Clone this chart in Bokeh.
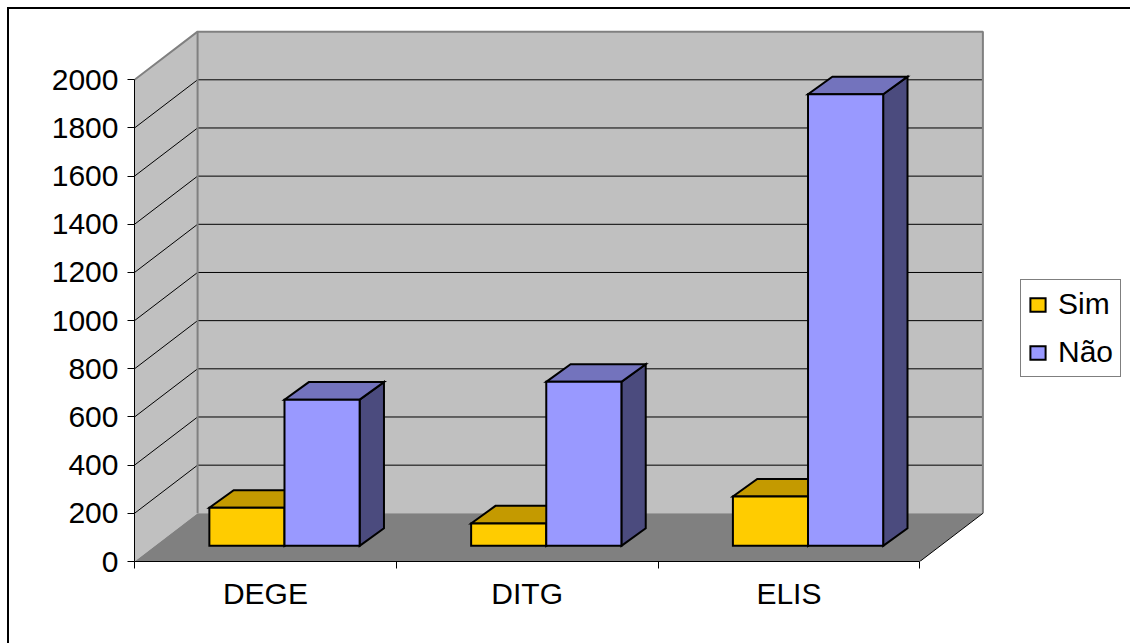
from bokeh.plotting import figure
from bokeh.models import (Range1d, FixedTicker, LinearAxis, Legend, LegendItem)
from bokeh.embed import file_html
from bokeh.resources import INLINE

# ---- data -------------------------------------------------------------
categories = ["DEGE", "DITG", "ELIS"]
series_names = ["Sim", "Não"]
sim_values = [158, 93, 205]
nao_values = [607, 681, 1875]
y_ticks = [0, 200, 400, 600, 800, 1000, 1200, 1400, 1600, 1800, 2000]

# ---- styling / geometry ---------------------------------------------
FONT = "Liberation Sans"
W, H = 1130, 643
LEFT, BOTTOM = 134, 82
X_PX = 261.77          # pixels per category
Y_PX = 0.24085         # pixels per value unit
Y_MAX = 2000

WALL_DX, WALL_DY = 0.241, 200       # depth of the 3-D box (x in categories, y in values)
BAR_FRONT = (0.073, 65)             # offset of bar front faces inside the box
BAR_BACK = (0.166, 138)             # offset of bar back faces inside the box
BAR_W = 0.287                       # width of one bar, in categories

SIM_COLORS = ("#FFCC00", "#C49A00", "#806600")   # front, top, side
NAO_COLORS = ("#9999FF", "#7373BD", "#4B4B7E")

n = len(categories)
x_end = (W - LEFT) / X_PX
y_end = (H - BOTTOM) / Y_PX

p = figure(width=W, height=H, x_range=Range1d(0, x_end), y_range=Range1d(0, y_end),
           output_backend="svg", toolbar_location=None,
           x_axis_type=None, y_axis_type=None,
           min_border_left=LEFT, min_border_bottom=BOTTOM,
           min_border_top=0, min_border_right=0)
p.outline_line_color = None
# transparent canvas so the chart border drawn by the page element shows through
p.background_fill_color = None
p.border_fill_color = None
p.styles = {
    "background-color": "white",
    "background-image": "linear-gradient(black, black), linear-gradient(black, black)",
    "background-size": "1130px 2px, 2px 643px",
    "background-position": "7px 7px, 7px 7px",
    "background-repeat": "no-repeat",
}

# ---- walls and floor ------------------------------------------------
wall_fill = "#C0C0C0"
p.patch([WALL_DX, n + WALL_DX, n + WALL_DX, WALL_DX],
        [WALL_DY, WALL_DY, Y_MAX + WALL_DY, Y_MAX + WALL_DY],
        fill_color=wall_fill, line_color=None)
p.patch([0, WALL_DX, WALL_DX, 0], [0, WALL_DY, Y_MAX + WALL_DY, Y_MAX],
        fill_color=wall_fill, line_color=None)
p.patch([0, n, n + WALL_DX, WALL_DX], [0, 0, WALL_DY, WALL_DY],
        fill_color="#808080", line_color=None)

# gridlines on the side and back walls
grid_xs, grid_ys = [], []
for v in y_ticks[1:-1]:
    grid_xs.append([0, WALL_DX, n + WALL_DX])
    grid_ys.append([v, v + WALL_DY, v + WALL_DY])
p.multi_line(grid_xs, grid_ys, line_color="black", line_width=1)

# wall edges
p.line([WALL_DX, WALL_DX], [WALL_DY, Y_MAX + WALL_DY], line_color="#808080", line_width=2)
p.line([0, WALL_DX, n + WALL_DX, n + WALL_DX],
       [Y_MAX, Y_MAX + WALL_DY, Y_MAX + WALL_DY, WALL_DY],
       line_color="#808080", line_width=2)
p.line([n, n + WALL_DX], [0, WALL_DY], line_color="black", line_width=1)

# ---- bars -----------------------------------------------------------
def bar_faces(values, j):
    fx, fy = BAR_FRONT
    bx, by = BAR_BACK
    front, top, side = ([], []), ([], []), ([], [])
    for i, v in enumerate(values):
        x0 = i + 0.5 - BAR_W + j * BAR_W
        x1 = x0 + BAR_W
        front[0].append([x0 + fx, x1 + fx, x1 + fx, x0 + fx])
        front[1].append([fy, fy, v + fy, v + fy])
        top[0].append([x0 + fx, x1 + fx, x1 + bx, x0 + bx])
        top[1].append([v + fy, v + fy, v + by, v + by])
        side[0].append([x1 + fx, x1 + bx, x1 + bx, x1 + fx])
        side[1].append([fy, by, v + by, v + fy])
    return front, top, side

front_renderers = []
for j, (values, colors) in enumerate([(sim_values, SIM_COLORS), (nao_values, NAO_COLORS)]):
    front, top, side = bar_faces(values, j)
    style = dict(line_color="black", line_width=2, line_join="miter")
    p.patches(side[0], side[1], fill_color=colors[2], **style)
    p.patches(top[0], top[1], fill_color=colors[1], **style)
    r = p.patches(front[0], front[1], fill_color=colors[0], **style)
    front_renderers.append(r)

# ---- axes -----------------------------------------------------------
yaxis = LinearAxis(ticker=FixedTicker(ticks=y_ticks, minor_ticks=[]),
                   bounds=(0, Y_MAX))
yaxis.axis_line_color = "black"
yaxis.axis_line_width = 1
yaxis.major_tick_out = 7
yaxis.major_tick_in = 0
yaxis.major_tick_line_color = "black"
yaxis.major_label_standoff = 9
yaxis.major_label_text_font = FONT
yaxis.major_label_text_font_size = "30px"
yaxis.major_label_text_color = "black"
p.add_layout(yaxis, "left")

centers = [i + 0.5 for i in range(n)]
xaxis = LinearAxis(ticker=FixedTicker(ticks=centers, minor_ticks=list(range(n + 1))),
                   bounds=(0, n))
xaxis.major_label_overrides = {c: name for c, name in zip(centers, categories)}
xaxis.axis_line_color = "black"
xaxis.axis_line_width = 1
xaxis.major_tick_out = 0
xaxis.major_tick_in = 0
xaxis.minor_tick_out = 7
xaxis.minor_tick_in = 0
xaxis.minor_tick_line_color = "black"
xaxis.major_label_standoff = 8
xaxis.major_label_text_font = FONT
xaxis.major_label_text_font_size = "30px"
xaxis.major_label_text_color = "black"
p.add_layout(xaxis, "below")

# ---- legend ---------------------------------------------------------
legend = Legend(items=[LegendItem(label=name, renderers=[r])
                       for name, r in zip(series_names, front_renderers)],
                location=(886, 184))
legend.border_line_color = "black"
legend.border_line_width = 1
legend.background_fill_color = "white"
legend.background_fill_alpha = 1
legend.label_text_font = FONT
legend.label_text_font_size = "30px"
legend.label_text_color = "black"
legend.glyph_width = 19
legend.glyph_height = 17
legend.label_standoff = 11
legend.label_height = 34
legend.spacing = 14
legend.padding = 7
legend.margin = 0
p.add_layout(legend)

open("out.html", "w").write(file_html(p, INLINE))
